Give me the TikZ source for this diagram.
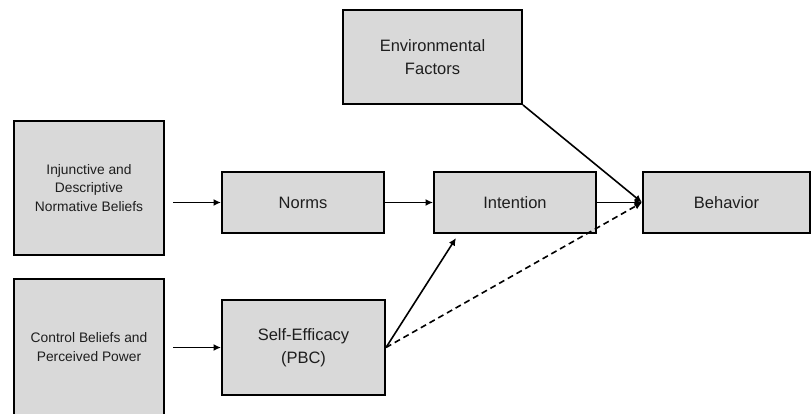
\documentclass[tikz,border=0pt]{standalone}
\usepackage{fontspec}
\setmainfont{Liberation Sans}
\usetikzlibrary{arrows.meta,positioning}
\definecolor{boxgray}{HTML}{D9D9D9}
\definecolor{ink}{HTML}{1E1E1E}
\begin{document}
\begin{tikzpicture}[x=1pt,y=-1pt,
  box/.style={draw=black,fill=boxgray,line width=2pt,inner sep=0pt,align=center,text=ink,
     font=\fontsize{16.5}{23}\selectfont},
  smallbox/.style={box,font=\fontsize{13.8}{18.7}\selectfont},
  arr/.style={line width=1.6pt,-{Latex[length=7.5pt,width=7pt]}},
  dasharr/.style={arr,dash pattern=on 6pt off 4pt}]
\useasboundingbox (0,0) rectangle (811,414);
\node[smallbox,minimum width=150pt,minimum height=134pt] (inj) at (89,188) {Injunctive and\\Descriptive\\Normative Beliefs};
\node[smallbox,minimum width=150pt,minimum height=136pt] (ctl) at (89,347) {Control Beliefs and\\Perceived Power};
\node[box,minimum width=162pt,minimum height=61pt] (norms) at (303,202.5) {Norms};
\node[box,minimum width=162pt,minimum height=61pt] (int) at (515,202.5) {Intention};
\node[box,minimum width=167pt,minimum height=61pt] (beh) at (726.5,202.5) {Behavior};
\node[box,minimum width=179pt,minimum height=94pt] (env) at (432.5,57) {Environmental\\Factors};
\node[box,minimum width=163pt,minimum height=95pt] (se) at (303.5,347.5) {Self-Efficacy\\(PBC)};
\coordinate (injout) at ([xshift=8pt]inj.east |- norms.west);
\coordinate (ctlout) at ([xshift=8pt]ctl.east |- se.west);
\coordinate (intin) at (456,238);
\draw[arr] (injout) -- (norms.west);
\draw[arr] (ctlout) -- (se.west);
\draw[arr] (norms.east) -- (int.west);
\draw[arr] (int.east) -- (beh.west);
\draw[arr] (env.south east) -- (beh.west);
\draw[arr] (se.east) -- (intin);
\draw[dasharr] (se.east) -- (beh.west);
\end{tikzpicture}
\end{document}
